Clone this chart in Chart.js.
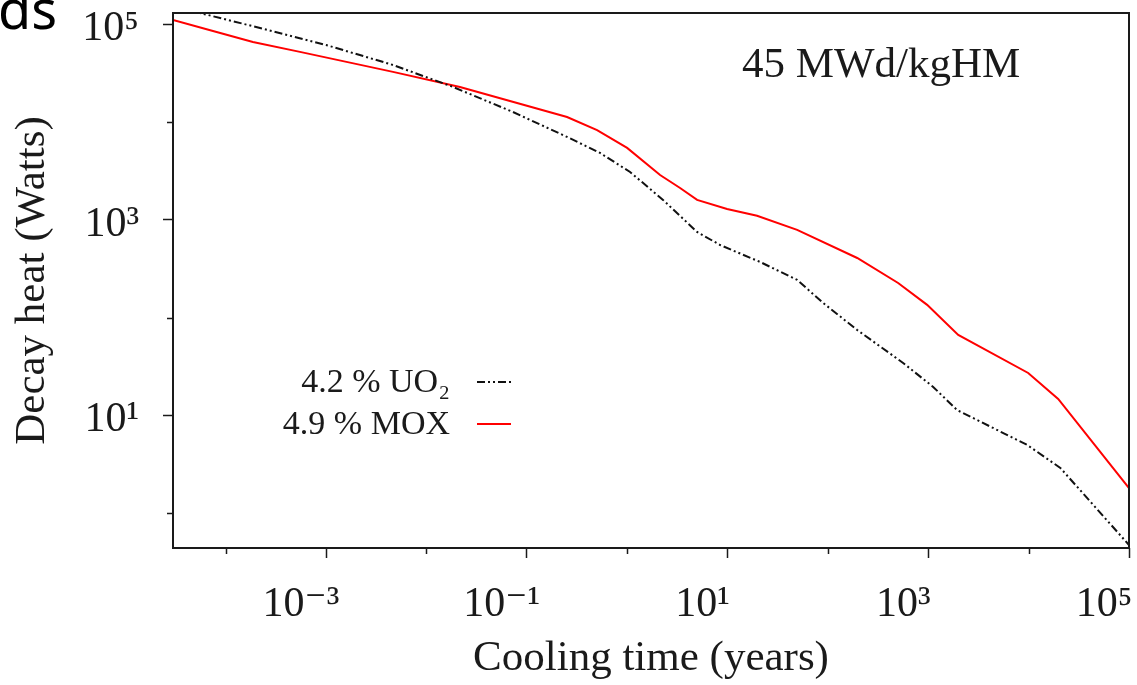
<!DOCTYPE html>
<html>
<head>
<meta charset="utf-8">
<script src="https://cdn.jsdelivr.net/npm/chart.js@4.4.1/dist/chart.umd.min.js"></script>
<style>
  html, body { margin: 0; padding: 0; background: #fff; }
  #wrap { position: relative; width: 1137px; height: 685px; }
</style>
</head>
<body>
<div id="wrap"><canvas id="chart" width="1137" height="685"></canvas></div>
<script>
// cooling time (years) / decay heat (W)
const uo2Time = [2.99e-5, 5.55e-5, 2.2e-4, 1.0e-3, 4.65e-3, 0.0185, 0.0729, 0.252, 0.537, 1.07, 2.28, 4.98, 8.43, 21.1, 49.4, 89.8, 196, 562, 1120, 1940, 9680, 20700, 1e5];
const uo2Heat = [1.58e5, 1.31e5, 9.2e4, 6.17e4, 3.85e4, 2.29e4, 1.27e4, 7060, 4840, 3090, 1600, 752, 553, 371, 243, 141, 74.6, 34.3, 19.5, 11.3, 4.97, 2.89, 0.47];

const moxTime = [2.99e-5, 7.48e-5, 1.87e-4, 5.5e-4, 4.65e-3, 0.0216, 0.252, 0.502, 1.0, 2.13, 3.37, 4.98, 9.9, 19.7, 49.4, 196, 501, 975, 1990, 9900, 19700, 1e5];
const moxHeat = [1.11e5, 8.58e4, 6.62e4, 5.24e4, 3.27e4, 2.29e4, 1.13e4, 8300, 5450, 2880, 2120, 1600, 1290, 1100, 789, 407, 226, 135, 66.4, 27.1, 14.7, 1.8];

const seriesNames = ['4.2 % UO₂', '4.9 % MOX'];
const burnupNote = '45 MWd/kgHM';

const xTickValues = [1e-4, 1e-3, 1e-2, 1e-1, 1, 10, 100, 1e3, 1e4, 1e5];
const xTickLabels = ['', '10⁻³', '', '10⁻¹', '', '10¹', '', '10³', '', '10⁵'];
const yTickValues = [1, 10, 100, 1e3, 1e4, 1e5];
const yTickLabels = ['', '10¹', '', '10³', '', '10⁵'];

const ink = '#1a1a1a';
const serif = "'Liberation Serif', 'DejaVu Serif', serif";

Chart.defaults.font.family = serif;
Chart.defaults.color = ink;

function toPoints(xs, ys) {
  return xs.map((x, i) => ({ x: x, y: ys[i] }));
}

// legend, note, frame and the short (unlabelled) ticks
const decor = {
  id: 'decor',
  afterDatasetsDraw(chart) {
    const { ctx, chartArea: a, scales } = chart;
    ctx.save();

    ctx.strokeStyle = ink;
    ctx.lineWidth = 2;
    ctx.strokeRect(a.left, a.top, a.right - a.left, a.bottom - a.top);

    ctx.lineWidth = 1.5;
    ctx.beginPath();
    xTickValues.forEach((v, i) => {
      if (xTickLabels[i]) return;
      const px = Math.round(scales.x.getPixelForValue(v)) + 0.5;
      ctx.moveTo(px, a.bottom);
      ctx.lineTo(px, a.bottom + 6);
    });
    yTickValues.forEach((v, i) => {
      if (yTickLabels[i]) return;
      const py = Math.round(scales.y.getPixelForValue(v)) + 0.5;
      ctx.moveTo(a.left, py);
      ctx.lineTo(a.left - 6, py);
    });
    ctx.stroke();

    // legend
    ctx.font = '34px ' + serif;
    ctx.fillStyle = ink;
    ctx.textAlign = 'right';
    ctx.textBaseline = 'alphabetic';
    const rows = [392, 434];
    chart.data.datasets.forEach((ds, i) => {
      ctx.fillText(ds.label, 450, rows[i]);
      ctx.save();
      ctx.strokeStyle = ds.borderColor;
      ctx.lineWidth = ds.borderWidth;
      ctx.setLineDash(ds.borderDash || []);
      ctx.beginPath();
      ctx.moveTo(477, rows[i] - 10);
      ctx.lineTo(511, rows[i] - 10);
      ctx.stroke();
      ctx.restore();
    });

    ctx.font = '43px ' + serif;
    ctx.textAlign = 'left';
    ctx.fillText(burnupNote, 742, 77);

    // leftover of the slide title, cut by the image edge
    ctx.font = "54px 'Noto Sans', sans-serif";
    ctx.fillStyle = '#000';
    ctx.fillText('ds', -2, 29);

    ctx.restore();
  }
};

new Chart(document.getElementById('chart'), {
  type: 'scatter',
  data: {
    datasets: [
      {
        label: seriesNames[0],
        data: toPoints(uo2Time, uo2Heat),
        showLine: true,
        borderColor: '#111111',
        borderWidth: 2,
        borderDash: [8, 3, 2, 3, 2, 3],
        pointRadius: 0,
        tension: 0
      },
      {
        label: seriesNames[1],
        data: toPoints(moxTime, moxHeat),
        showLine: true,
        borderColor: '#ff0000',
        borderWidth: 2,
        pointRadius: 0,
        tension: 0
      }
    ]
  },
  options: {
    responsive: false,
    animation: false,
    devicePixelRatio: 1,
    layout: { padding: { top: 13, right: 8, left: 0, bottom: 0 } },
    plugins: {
      legend: { display: false },
      tooltip: { enabled: false }
    },
    scales: {
      x: {
        type: 'logarithmic',
        position: 'bottom',
        min: 2.99e-5,
        max: 1e5,
        afterBuildTicks: (axis) => { axis.ticks = xTickValues.map(v => ({ value: v })); },
        afterFit: (axis) => { axis.height = 137; axis.paddingLeft = 0; axis.paddingRight = 0; },
        ticks: {
          autoSkip: false,
          maxRotation: 0,
          minRotation: 0,
          padding: 22,
          labelOffset: -25,
          font: { size: 42 },
          callback: (v, i) => xTickLabels[i]
        },
        grid: {
          drawOnChartArea: false,
          tickLength: 10,
          tickWidth: 1.5,
          tickColor: (c) => xTickLabels[c.index] ? ink : 'rgba(0,0,0,0)'
        },
        border: { display: false },
        title: { display: true, text: 'Cooling time (years)', font: { size: 43 }, padding: { top: 0, bottom: 0 } }
      },
      y: {
        type: 'logarithmic',
        min: 0.438,
        max: 1.31e5,
        afterBuildTicks: (axis) => { axis.ticks = yTickValues.map(v => ({ value: v })); },
        afterFit: (axis) => { axis.width = 173; axis.paddingTop = 0; axis.paddingBottom = 0; },
        ticks: {
          autoSkip: false,
          padding: 24,
          labelOffset: 5,
          font: { size: 42 },
          callback: (v, i) => yTickLabels[i]
        },
        grid: {
          drawOnChartArea: false,
          tickLength: 10,
          tickWidth: 1.5,
          tickColor: (c) => yTickLabels[c.index] ? ink : 'rgba(0,0,0,0)'
        },
        border: { display: false },
        title: { display: true, text: 'Decay heat (Watts)', font: { size: 43 }, padding: { top: 7, bottom: 0 } }
      }
    }
  },
  plugins: [decor]
});
</script>
</body>
</html>
